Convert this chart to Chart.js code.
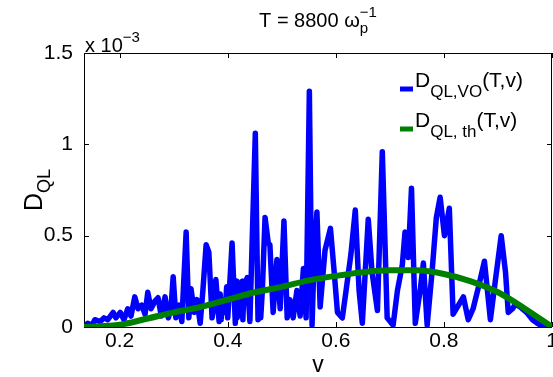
<!DOCTYPE html>
<html>
<head>
<meta charset="utf-8">
<script src="https://cdn.jsdelivr.net/npm/chart.js@4.4.1/dist/chart.umd.min.js"></script>
<style>
  body { margin: 0; background: #fff; }
  canvas { display: block; }
</style>
</head>
<body>
<canvas id="dqlChart" width="553" height="377"></canvas>
<script>
// D_QL(T,v) at T = 8800, values in units of 1e-3

const vBlue = [
  0.134, 0.141, 0.149, 0.154, 0.164, 0.171, 0.178, 0.188, 0.193, 0.201,
  0.208, 0.215, 0.221, 0.228, 0.234, 0.241, 0.247, 0.252, 0.258, 0.265,
  0.271, 0.277, 0.284, 0.290, 0.295, 0.299, 0.304, 0.310, 0.315, 0.323,
  0.328, 0.332, 0.338, 0.343, 0.349, 0.354, 0.360, 0.365, 0.371, 0.375,
  0.378, 0.384, 0.386, 0.388, 0.390, 0.395, 0.398, 0.400, 0.403, 0.408,
  0.414, 0.416, 0.417, 0.419, 0.425, 0.427, 0.428, 0.430,
  0.436, 0.441, 0.445, 0.451, 0.456, 0.459, 0.461, 0.464, 0.469, 0.475, 0.478, 0.484,
  0.491, 0.497, 0.504, 0.510, 0.515, 0.521, 0.528, 0.534, 0.540, 0.545,
  0.551, 0.556, 0.560, 0.565, 0.571, 0.580, 0.590, 0.597, 0.603, 0.612,
  0.619, 0.628, 0.636, 0.643, 0.649, 0.660, 0.667, 0.677, 0.686, 0.695,
  0.706, 0.714, 0.723, 0.728, 0.734, 0.740, 0.747, 0.756, 0.762, 0.769,
  0.778, 0.786, 0.793, 0.801, 0.810, 0.817, 0.827, 0.836, 0.845, 0.854,
  0.864, 0.875, 0.886, 0.895, 0.906, 0.914, 0.919, 0.927, 0.932, 0.941,
  0.954, 0.964, 0.973, 0.982, 0.993, 1.000
];
const dBlue = [
  0.00, 0.02, 0.01, 0.04, 0.03, 0.05, 0.04, 0.08, 0.05, 0.08,
  0.04, 0.10, 0.06, 0.165, 0.10, 0.12, 0.07, 0.19, 0.10, 0.14,
  0.16, 0.06, 0.165, 0.05, 0.10, 0.275, 0.05, 0.12, 0.03, 0.52,
  0.05, 0.21, 0.08, 0.15, 0.02, 0.20, 0.45, 0.41, 0.05, 0.12,
  0.26, 0.03, 0.18, 0.04, 0.15, 0.08, 0.22, 0.05, 0.20, 0.46,
  0.02, 0.25, 0.05, 0.18, 0.06, 0.25, 0.04, 0.22,
  0.27, 0.03, 0.45, 1.06, 0.04, 0.25, 0.05, 0.20, 0.60, 0.46, 0.45, 0.08,
  0.37, 0.10, 0.58, 0.05, 0.15, 0.05, 0.20, 0.06, 0.32, 0.05,
  1.29, 0.01, 0.40, 0.63, 0.11, 0.42, 0.54, 0.30, 0.08, 0.05,
  0.20, 0.40, 0.64, 0.20, 0.02, 0.59, 0.30, 0.09, 0.96, 0.05,
  0.01, 0.20, 0.34, 0.52, 0.38, 0.76, 0.02, 0.20, 0.35, 0.01,
  0.30, 0.60, 0.71, 0.50, 0.65, 0.07, 0.12, 0.165, 0.04, 0.10,
  0.22, 0.36, 0.04, 0.25, 0.50, 0.30, 0.08, 0.10, 0.125, 0.11,
  0.077, 0.04, 0.02, 0.005, 0.00, 0.00
];

const vTh = [0.134, 0.2, 0.25, 0.3, 0.35, 0.4, 0.45, 0.5, 0.55, 0.6, 0.65, 0.7, 0.75, 0.8, 0.85, 0.9, 0.95, 1.0];
const dTh = [0, 0.012, 0.045, 0.08, 0.11, 0.15, 0.19, 0.22, 0.255, 0.28, 0.30, 0.31, 0.31, 0.29, 0.25, 0.19, 0.10, 0];

const xTicks = [0.2, 0.4, 0.6, 0.8, 1];
const yTicks = [0, 0.5, 1, 1.5];

const FONT = '"Liberation Sans", Arial, Helvetica, sans-serif';

// text with sub/superscripts: parts = [{t, s, dy, stack}]
function drawRich(ctx, parts, x, y, align) {
  let cur = 0, total = 0, prevStart = 0, prevEnd = 0;
  const pos = [];
  parts.forEach(p => {
    ctx.font = p.s + 'px ' + FONT;
    const w = ctx.measureText(p.t).width;
    const start = p.stack ? prevStart : cur;
    const end = p.stack ? Math.max(prevEnd, start + w) : start + w;
    pos.push(start);
    prevStart = start; prevEnd = end; cur = end;
    total = Math.max(total, end);
  });
  const x0 = align === 'center' ? x - total / 2 : (align === 'right' ? x - total : x);
  ctx.textAlign = 'left';
  ctx.textBaseline = 'alphabetic';
  parts.forEach((p, i) => {
    ctx.font = p.s + 'px ' + FONT;
    ctx.fillText(p.t, x0 + pos[i], y + (p.dy || 0));
  });
}

const matlabAxes = {
  id: 'matlabAxes',
  beforeDatasetsDraw(chart) {
    const {ctx, chartArea: a, scales: {x, y}} = chart;
    ctx.save();
    ctx.strokeStyle = '#000';
    ctx.lineWidth = 1;
    ctx.strokeRect(a.left + 0.5, a.top + 0.5, a.right - a.left - 1, a.bottom - a.top);
    ctx.beginPath();
    xTicks.forEach(t => {
      const px = Math.round(x.getPixelForValue(t)) + 0.5;
      ctx.moveTo(px, a.bottom); ctx.lineTo(px, a.bottom - 5);
      ctx.moveTo(px, a.top); ctx.lineTo(px, a.top + 5);
    });
    yTicks.forEach(t => {
      const py = Math.round(y.getPixelForValue(t)) + 0.5;
      ctx.moveTo(a.left, py); ctx.lineTo(a.left + 5, py);
      ctx.moveTo(a.right, py); ctx.lineTo(a.right - 5, py);
    });
    ctx.stroke();
    ctx.restore();
  },
  afterDraw(chart) {
    const {ctx, chartArea: a} = chart;
    ctx.save();
    ctx.fillStyle = '#000';
    const cx = (a.left + a.right) / 2;

    // title
    drawRich(ctx, [
      {t: 'T = 8800 \u03c9', s: 20},
      {t: 'p', s: 15, dy: 6},
      {t: '\u22121', s: 15, dy: -10, stack: true}
    ], cx, 27, 'center');

    // exponent label
    drawRich(ctx, [
      {t: 'x 10', s: 20},
      {t: '\u22123', s: 15, dy: -10}
    ], a.left + 1, 52, 'left');

    // x axis title
    drawRich(ctx, [{t: 'v', s: 23}], cx, 372, 'center');

    // y axis title
    ctx.save();
    ctx.translate(42, 190);
    ctx.rotate(-Math.PI / 2);
    drawRich(ctx, [
      {t: 'D', s: 25},
      {t: 'QL', s: 18, dy: 8}
    ], 0, 0, 'center');
    ctx.restore();

    // legend
    const rows = [
      {color: '#0000ff', sub: 'QL,VO', y: 87},
      {color: '#008000', sub: 'QL, th', y: 127}
    ];
    rows.forEach(r => {
      ctx.strokeStyle = r.color;
      ctx.lineWidth = 5;
      ctx.beginPath();
      ctx.moveTo(400, r.y + 2);
      ctx.lineTo(413, r.y + 2);
      ctx.stroke();
      drawRich(ctx, [
        {t: 'D', s: 21},
        {t: r.sub, s: 17, dy: 10},
        {t: '(T,v)', s: 21}
      ], 415, r.y, 'left');
    });
    ctx.restore();
  }
};

const ctxD = document.getElementById('dqlChart');
const dqlChart = new Chart(ctxD, {
  type: 'line',
  data: {
    datasets: [{
      label: 'D_QL,VO(T,v)',
      data: vBlue.map((v, i) => ({x: v, y: dBlue[i]})),
      borderColor: '#0000ff',
      borderWidth: 5.5,
      borderJoinStyle: 'round',
      borderCapStyle: 'round',
      pointRadius: 0,
      tension: 0,
      fill: false,
      order: 2
    }, {
      label: 'D_QL,th(T,v)',
      data: vTh.map((v, i) => ({x: v, y: dTh[i]})),
      borderColor: '#008000',
      borderWidth: 6,
      borderCapStyle: 'round',
      cubicInterpolationMode: 'monotone',
      pointRadius: 0,
      fill: false,
      order: 1
    }]
  },
  options: {
    responsive: false,
    animation: false,
    events: [],
    layout: {
      padding: {top: 53, right: 1, left: 0, bottom: 0}
    },
    scales: {
      x: {
        type: 'linear',
        min: 0.134,
        max: 1,
        grid: {display: false},
        border: {display: false},
        afterBuildTicks: s => { s.ticks = xTicks.map(v => ({value: v})); },
        afterFit: s => { s.height = 50; s.paddingLeft = 0; s.paddingRight = 0; },
        ticks: {
          color: '#000',
          padding: -6,
          maxRotation: 0,
          font: {family: FONT, size: 21},
          callback: v => String(v)
        }
      },
      y: {
        min: 0,
        max: 1.5,
        grid: {display: false},
        border: {display: false},
        afterBuildTicks: s => { s.ticks = yTicks.map(v => ({value: v})); },
        afterFit: s => { s.width = 84; s.paddingTop = 0; s.paddingBottom = 0; },
        ticks: {
          color: '#000',
          padding: 3,
          font: {family: FONT, size: 21},
          callback: v => String(v)
        }
      }
    },
    plugins: {
      legend: {display: false},
      title: {display: false},
      tooltip: {enabled: false}
    }
  },
  plugins: [matlabAxes]
});
</script>
</body>
</html>
